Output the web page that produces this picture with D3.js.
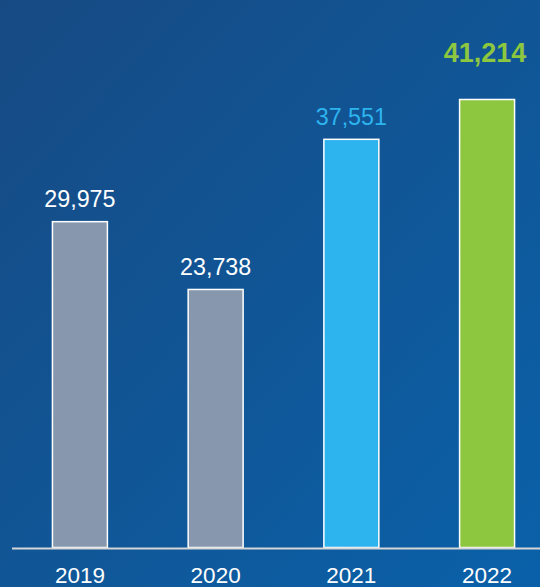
<!DOCTYPE html>
<html>
<head>
<meta charset="utf-8">
<script src="https://cdn.jsdelivr.net/npm/d3@7"></script>
<style>
  html, body { margin: 0; padding: 0; background: #11508f; }
  svg { display: block; font-family: "Liberation Sans", Arial, sans-serif; }
</style>
</head>
<body>
<div id="chart"></div>
<script>
var years = ["2019", "2020", "2021", "2022"];
var values = [29975, 23738, 37551, 41214];
var barColors = ["#8798ae", "#8798ae", "#2db3ee", "#8dc63f"];
var labelColors = ["#ffffff", "#ffffff", "#2db3ee", "#8dc63f"];

var svgWidth = 540;
var svgHeight = 587;
var baseY = 547.5;

var svg = d3.select("#chart")
  .append("svg")
  .attr("width", svgWidth)
  .attr("height", svgHeight);

// background gradient
var defs = svg.append("defs");
var grad = defs.append("linearGradient")
  .attr("id", "bg")
  .attr("x1", "0%").attr("y1", "0%")
  .attr("x2", "100%").attr("y2", "100%");
grad.append("stop").attr("offset", "0%").attr("stop-color", "#174a83");
grad.append("stop").attr("offset", "100%").attr("stop-color", "#0a61a9");

svg.append("rect")
  .attr("width", svgWidth)
  .attr("height", svgHeight)
  .attr("fill", "url(#bg)");

var x = d3.scaleBand()
  .domain(years)
  .range([12, 555])
  .paddingInner(0.595)
  .paddingOuter(0.298);

var y = d3.scaleLinear()
  .domain([0, 50000])
  .range([baseY, baseY - 50000 * 0.01087]);

svg.selectAll(".bar")
  .data(values)
  .enter()
  .append("rect")
  .attr("class", "bar")
  .attr("x", (d, i) => x(years[i]))
  .attr("y", d => y(d))
  .attr("width", x.bandwidth())
  .attr("height", d => baseY - y(d))
  .attr("fill", (d, i) => barColors[i])
  .attr("stroke", "#ffffff")
  .attr("stroke-width", 1.5);

// value labels
svg.selectAll(".val")
  .data(values)
  .enter()
  .append("text")
  .attr("class", "val")
  .attr("x", (d, i) => x(years[i]) + x.bandwidth() / 2 - (i === 3 ? 2 : 0))
  .attr("y", (d, i) => i === 3 ? y(d) - 38 : y(d) - 14.5)
  .attr("text-anchor", "middle")
  .attr("fill", (d, i) => labelColors[i])
  .style("font-size", (d, i) => i === 3 ? "27px" : "23.3px")
  .style("font-weight", (d, i) => i === 3 ? "bold" : "normal")
  .text(d => d3.format(",")(d));

// baseline
svg.append("line")
  .attr("x1", 12).attr("x2", 540)
  .attr("y1", baseY + 1).attr("y2", baseY + 1)
  .attr("stroke", "#d6d6d6")
  .attr("stroke-width", 2);

// year labels
svg.selectAll(".year")
  .data(years)
  .enter()
  .append("text")
  .attr("class", "year")
  .attr("x", d => x(d) + x.bandwidth() / 2)
  .attr("y", 583)
  .attr("text-anchor", "middle")
  .attr("fill", "#ffffff")
  .style("font-size", "22.5px")
  .text(d => d);
</script>
</body>
</html>
